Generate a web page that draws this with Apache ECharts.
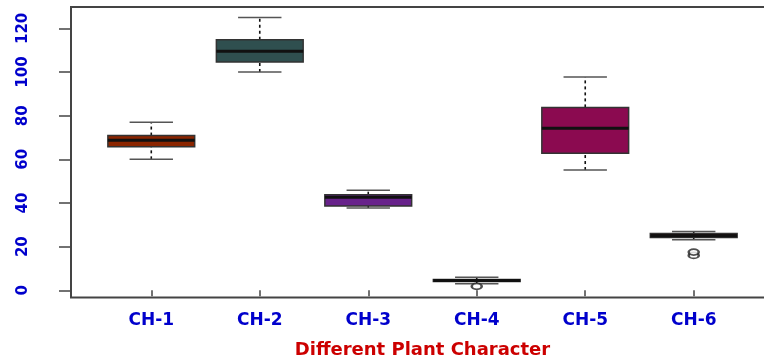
<!DOCTYPE html>
<html>
<head>
<meta charset="utf-8">
<script src="https://cdn.jsdelivr.net/npm/echarts@6/dist/echarts.min.js"></script>
<style>html,body{margin:0;padding:0;background:#fff;}#c{width:764px;height:362px;}</style>
</head>
<body>
<div id="c"></div>
<script>
var categories = ['CH-1', 'CH-2', 'CH-3', 'CH-4', 'CH-5', 'CH-6'];
var lowWhisker = [60.0, 100.0, 37.7, 3.0, 55.1, 23.2];
var q1 = [65.8, 104.6, 38.6, 4.0, 62.8, 24.2];
var median = [68.7, 109.5, 42.6, 4.5, 74.2, 25.0];
var q3 = [70.9, 114.8, 43.8, 5.0, 83.8, 26.0];
var highWhisker = [77.0, 125.0, 45.8, 6.0, 97.7, 26.9];
var outlierCategory = ['CH-4', 'CH-6', 'CH-6'];
var outlierValue = [1.8, 16.0, 17.5];
var boxColors = ['#8B2500', '#2F4F4F', '#68228B', '#10104A', '#8B0A50', '#2A0C0C'];
var yTicks = [0, 20, 40, 60, 80, 100, 120];
var xTitle = 'Different Plant Character';

var boxData = categories.map(function (c, i) {
  return [i + 1, lowWhisker[i], q1[i], median[i], q3[i], highWhisker[i]];
});
var outData = outlierCategory.map(function (c, i) {
  return [categories.indexOf(c) + 1, outlierValue[i]];
});

var chart = echarts.init(document.getElementById('c'));
chart.setOption({
  animation: false,
  backgroundColor: '#fff',
  grid: { left: 71, width: 703, top: 7, bottom: 64.5, containLabel: false, outerBoundsMode: 'none', show: true, borderColor: '#444', borderWidth: 2, backgroundColor: 'transparent' },
  xAxis: {
    type: 'value', min: 0.26, max: 6.74,
    name: xTitle, nameLocation: 'middle', nameGap: 44,
    nameTextStyle: { color: '#CC0000', fontFamily: 'DejaVu Sans', fontWeight: 'bold', fontSize: 18 },
    axisLine: { show: false },
    splitLine: { show: false },
    axisTick: { show: true, length: 6, customValues: [1, 2, 3, 4, 5, 6], lineStyle: { color: '#444', width: 1.5 } },
    axisLabel: { customValues: [1, 2, 3, 4, 5, 6], margin: 15, color: '#0000CC', fontFamily: 'DejaVu Sans', fontWeight: 'bold', fontSize: 17,
      formatter: function (v) { return categories[Math.round(v) - 1] || ''; } }
  },
  yAxis: {
    type: 'value', min: -3.3, max: 129.8,
    axisLine: { show: false },
    splitLine: { show: false },
    axisTick: { show: true, length: 12, customValues: yTicks, lineStyle: { color: '#444', width: 1.5 } },
    axisLabel: { customValues: yTicks, rotate: 90, margin: 40, color: '#0000CC', fontFamily: 'DejaVu Sans', fontWeight: 'bold', fontSize: 15 }
  },
  series: [
    {
      type: 'custom',
      data: boxData,
      encode: { x: 0, y: [1, 2, 3, 4, 5] },
      renderItem: function (params, api) {
        var x = api.value(0);
        var idx = params.dataIndex;
        var hw = api.size([0.8, 0])[0] / 2;
        var sw = api.size([0.4, 0])[0] / 2;
        var pLow = api.coord([x, api.value(1)]);
        var pQ1 = api.coord([x, api.value(2)]);
        var pMed = api.coord([x, api.value(3)]);
        var pQ3 = api.coord([x, api.value(4)]);
        var pHigh = api.coord([x, api.value(5)]);
        var cx = pMed[0];
        return {
          type: 'group',
          children: [
            { type: 'line', shape: { x1: cx, y1: pQ3[1], x2: cx, y2: pHigh[1] }, style: { stroke: '#111', lineWidth: 1.6, lineDash: [3, 3] } },
            { type: 'line', shape: { x1: cx, y1: pLow[1], x2: cx, y2: pQ1[1] }, style: { stroke: '#111', lineWidth: 1.6, lineDash: [3, 3] } },
            { type: 'line', shape: { x1: cx - sw, y1: pHigh[1], x2: cx + sw, y2: pHigh[1] }, style: { stroke: '#555', lineWidth: 1.5 } },
            { type: 'line', shape: { x1: cx - sw, y1: pLow[1], x2: cx + sw, y2: pLow[1] }, style: { stroke: '#555', lineWidth: 1.5 } },
            { type: 'rect', shape: { x: cx - hw, y: pQ3[1], width: hw * 2, height: pQ1[1] - pQ3[1] }, style: { fill: boxColors[idx], stroke: '#333', lineWidth: 1.5 } },
            { type: 'line', shape: { x1: cx - hw, y1: pMed[1], x2: cx + hw, y2: pMed[1] }, style: { stroke: '#111', lineWidth: 3 } }
          ]
        };
      }
    },
    {
      type: 'scatter',
      data: outData,
      symbol: 'emptyCircle',
      symbolSize: [10, 6],
      itemStyle: { color: '#222', borderColor: '#222', borderWidth: 1 }
    }
  ]
});
</script>
</body>
</html>
